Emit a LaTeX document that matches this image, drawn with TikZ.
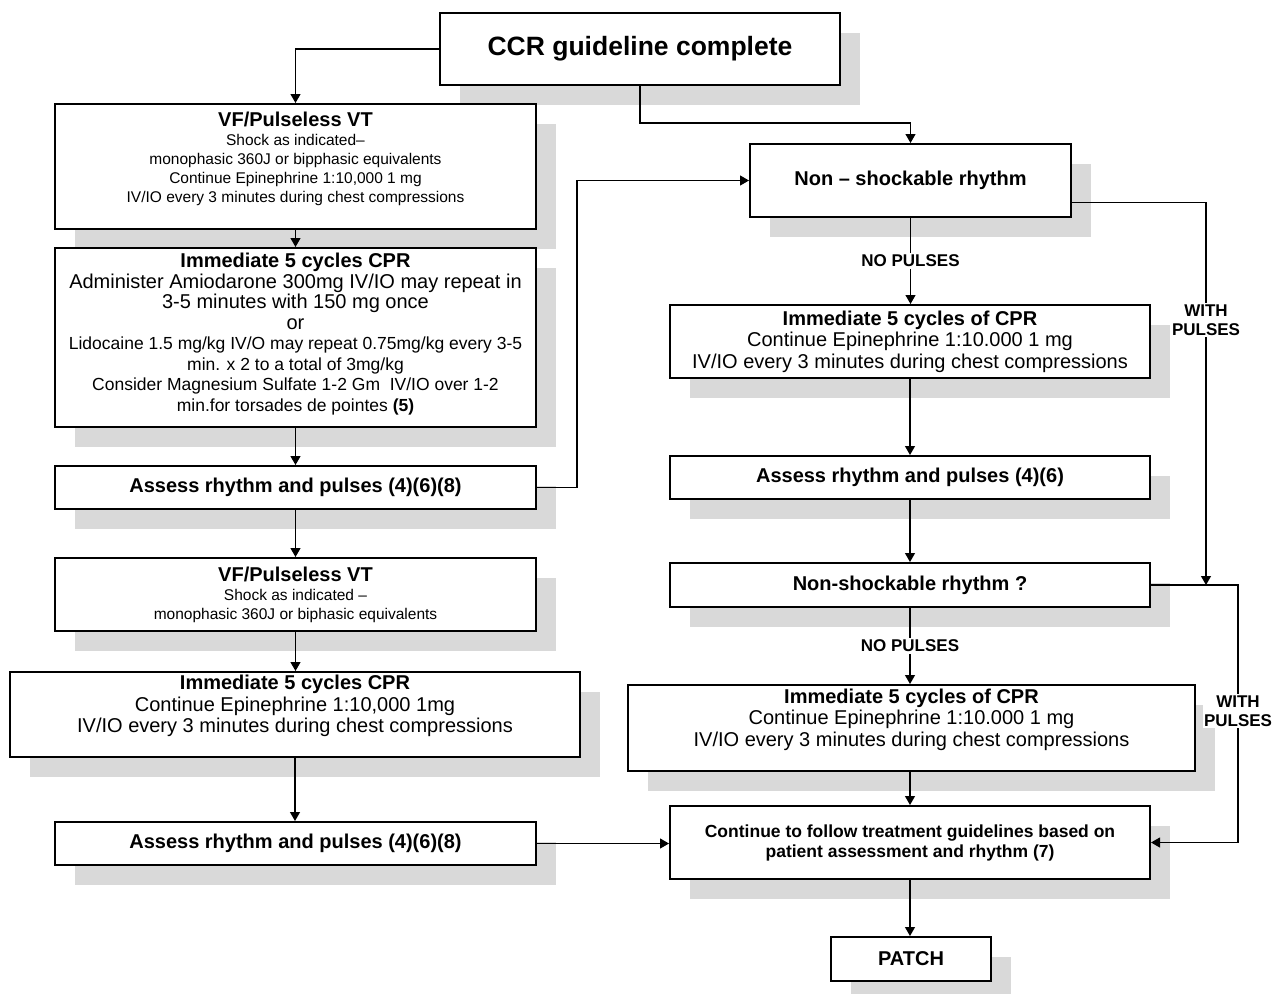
\documentclass[tikz,border=0pt]{standalone}
\usepackage{fontspec}
\setmainfont{Liberation Sans}
\usetikzlibrary{arrows.meta,shadows}

\begin{document}
\begin{tikzpicture}[
    x=1pt, y=-1pt,
    >={Triangle[length=9pt, width=10pt]},
    stepbox/.style={draw, line width=2pt, fill=white, align=center, inner sep=2pt,
        font=\fontsize{20}{21.5}\selectfont,
        drop shadow={shadow xshift=20pt, shadow yshift=-20pt, fill=black!15, opacity=1}},
    conn/.style={->, line width=1.2pt},
    lbl/.style={fill=white, inner sep=1.5pt, align=center, font=\fontsize{17}{19}\selectfont\bfseries}
]
    \def\sm{\fontsize{15.5}{19}\selectfont}
    \def\md{\fontsize{17.5}{20}\selectfont}
    \def\ttl{\fontsize{20}{21.5}\selectfont\bfseries}
    \useasboundingbox (0,0) rectangle (1274,993);

    % left column
    \node[stepbox, minimum width=400pt, minimum height=72pt, font=\fontsize{26.5}{30}\selectfont\bfseries]
        (ccr) at (640,49) {CCR guideline complete};
    \node[stepbox, minimum width=481pt, minimum height=125pt, font=\sm] (vf1) at (295.5,166.5)
        {{\ttl VF/Pulseless VT}\\ Shock as indicated–\\ monophasic 360J or bipphasic equivalents\\
         Continue Epinephrine 1:10,000 1 mg\\ IV/IO every 3 minutes during chest compressions\\ \mbox{}};
    \node[stepbox, minimum width=481pt, minimum height=179pt, inner ysep=0pt,
        font=\fontsize{20}{20.5}\selectfont] (cpr1) at (295.5,337.5)
        {{\bfseries Immediate 5 cycles CPR}\\ Administer Amiodarone 300mg IV/IO may repeat in\\
         3-5 minutes with 150 mg once\\ or\\
         {\md Lidocaine 1.5 mg/kg IV/O may repeat 0.75mg/kg every 3-5}\\
         {\md min. x 2 to a total of 3mg/kg}\\
         {\md Consider Magnesium Sulfate 1-2 Gm\ \ IV/IO over 1-2}\\
         {\md min.for torsades de pointes \textbf{(5)}}\\[-10pt] \mbox{}};
    \node[stepbox, minimum width=481pt, minimum height=43pt, font=\ttl] (as1) at (295.5,487.5)
        {Assess rhythm and pulses (4)(6)(8)};
    \node[stepbox, minimum width=481pt, minimum height=73pt, font=\sm] (vf2) at (295.5,594.5)
        {{\ttl VF/Pulseless VT}\\ Shock as indicated –\\ monophasic 360J or biphasic equivalents};
    \node[stepbox, minimum width=570pt, minimum height=85pt] (cpr2) at (295,714.5)
        {{\bfseries Immediate 5 cycles CPR}\\ Continue Epinephrine 1:10,000 1mg\\
         IV/IO every 3 minutes during chest compressions\\ \mbox{}};
    \node[stepbox, minimum width=481pt, minimum height=43pt, font=\ttl] (as2) at (295.5,843.5)
        {Assess rhythm and pulses (4)(6)(8)};

    % right column
    \node[stepbox, minimum width=321pt, minimum height=73pt, font=\ttl] (nons) at (910.5,180.5)
        {Non – shockable rhythm};
    \node[stepbox, minimum width=480pt, minimum height=73pt] (cpr3) at (910,341.5)
        {{\bfseries Immediate 5 cycles of CPR}\\ Continue Epinephrine 1:10.000 1 mg\\
         IV/IO every 3 minutes during chest compressions};
    \node[stepbox, minimum width=480pt, minimum height=43pt, font=\ttl] (as3) at (910,477.5)
        {Assess rhythm and pulses (4)(6)};
    \node[stepbox, minimum width=480pt, minimum height=44pt, font=\ttl] (nons2) at (910,585)
        {Non-shockable rhythm ?};
    \node[stepbox, minimum width=567pt, minimum height=86pt] (cpr4) at (911.5,728)
        {{\bfseries Immediate 5 cycles of CPR}\\ Continue Epinephrine 1:10.000 1 mg\\
         IV/IO every 3 minutes during chest compressions\\ \mbox{}};
    \node[stepbox, minimum width=480pt, minimum height=73pt, font=\md\bfseries] (cont) at (910,842.5)
        {Continue to follow treatment guidelines based on\\ patient assessment and rhythm (7)};
    \node[stepbox, minimum width=160pt, minimum height=44pt, font=\ttl] (patch) at (911,959)
        {PATCH};
    \coordinate (jn) at (1206,585);

    % connectors
    \draw[conn] (ccr.west) -| (vf1.north);
    \draw[conn] (ccr.south) -- ++(0,37) -| (nons.north);
    \draw[conn] (vf1.south) -- (cpr1.north);
    \draw[conn] (cpr1.south) -- (as1.north);
    \draw[conn] (as1.east) -- ++(40,0) |- (nons.west);
    \draw[conn] (as1.south) -- (vf2.north);
    \draw[conn] (vf2.south) -- (vf2.south |- cpr2.north);
    \draw[conn] (cpr2.south) -- (cpr2.south |- as2.north);
    \draw[conn] (as2.east) -- (as2.east -| cont.west);
    \draw[conn] (nons.south) -- node[lbl] {NO PULSES} (nons.south |- cpr3.north);
    \draw[conn] ([yshift=-22pt]nons.east) -| node[lbl, pos=0.654] {WITH\\PULSES} (jn);
    \draw[conn] (cpr3.south) -- (as3.north);
    \draw[conn] (as3.south) -- (nons2.north);
    \draw[conn] (nons2.south) -- node[lbl] {NO PULSES} (nons2.south |- cpr4.north);
    \draw[conn] (nons2.east) -- ++(87,0) |- node[lbl, pos=0.245] {WITH\\PULSES} (cont.east);
    \draw[conn] (cont.north |- cpr4.south) -- (cont.north);
    \draw[conn] (cont.south) -- (cont.south |- patch.north);
\end{tikzpicture}
\end{document}
